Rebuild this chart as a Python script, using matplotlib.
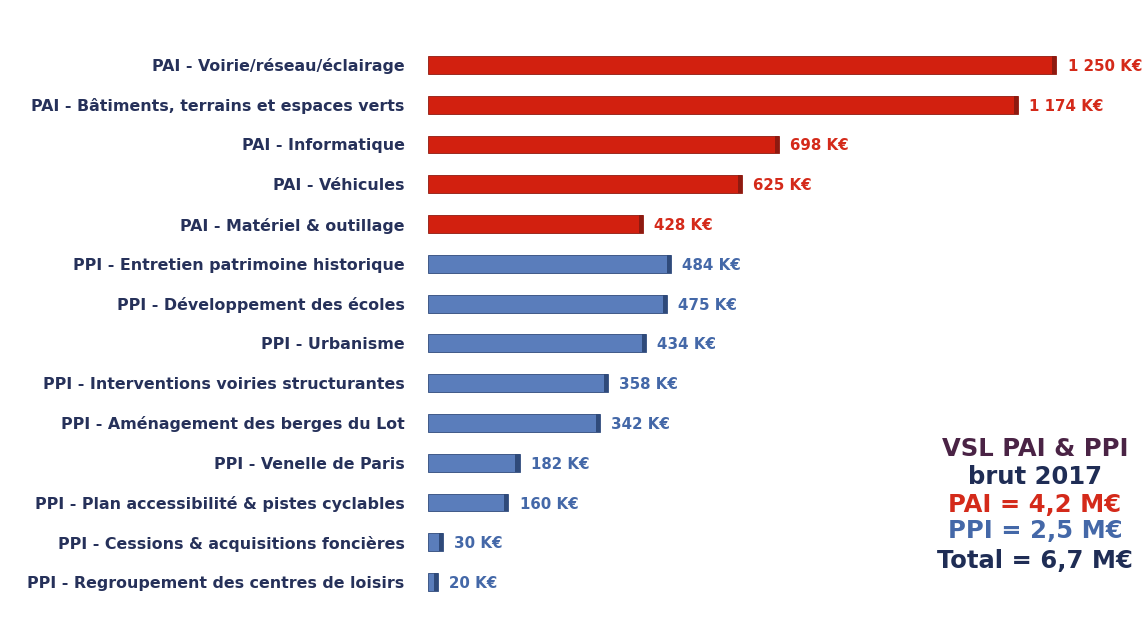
import matplotlib.pyplot as plt

categories = [
    "PAI - Voirie/réseau/éclairage",
    "PAI - Bâtiments, terrains et espaces verts",
    "PAI - Informatique",
    "PAI - Véhicules",
    "PAI - Matériel & outillage",
    "PPI - Entretien patrimoine historique",
    "PPI - Développement des écoles",
    "PPI - Urbanisme",
    "PPI - Interventions voiries structurantes",
    "PPI - Aménagement des berges du Lot",
    "PPI - Venelle de Paris",
    "PPI - Plan accessibilité & pistes cyclables",
    "PPI - Cessions & acquisitions foncières",
    "PPI - Regroupement des centres de loisirs",
]
values = [1250, 1174, 698, 625, 428, 484, 475, 434, 358, 342, 182, 160, 30, 20]
value_labels = ["1 250 K€", "1 174 K€", "698 K€", "625 K€", "428 K€", "484 K€", "475 K€",
                "434 K€", "358 K€", "342 K€", "182 K€", "160 K€", "30 K€", "20 K€"]

summary_lines = ["VSL PAI & PPI", "brut 2017", "PAI = 4,2 M€", "PPI = 2,5 M€", "Total = 6,7 M€"]

RED = "#d2200f"
RED_DARK = "#8e1a10"
BLUE = "#5a7dbb"
BLUE_DARK = "#2f4a7a"
RED_TXT = "#d42a1a"
BLUE_TXT = "#4468a8"
NAVY = "#26315a"

plt.rcParams['font.family'] = ['DejaVu Sans']

fig = plt.figure(figsize=(11.47, 6.21), dpi=100)
ax = fig.add_axes([428 / 1147, 1 - 602 / 621, 719 / 1147, 557 / 621])

y = list(range(len(categories)))
is_pai = [c.startswith("PAI") for c in categories]
colors = [RED if p else BLUE for p in is_pai]
edges = [RED_DARK if p else BLUE_DARK for p in is_pai]
ax.barh(y, values, height=0.45, color=colors, edgecolor=edges, linewidth=0.6)

# darker end cap for the pseudo-3D look
cap = 8
ax.barh(y, [cap] * len(values), left=[v - cap for v in values], height=0.45,
        color=edges, linewidth=0)

for yi, v, lab, c, p in zip(y, values, value_labels, categories, is_pai):
    col = RED_TXT if p else BLUE_TXT
    ax.annotate(lab, (v, yi), xytext=(8, 0), textcoords="offset points",
                va="center_baseline", ha="left", fontsize=10.8, fontweight="bold", color=col)
    ax.annotate(c, (0, yi), xytext=(-17, 0), textcoords="offset points",
                va="center_baseline", ha="right", fontsize=11.4, fontweight="bold", color=NAVY,
                annotation_clip=False)

ax.set_xlim(0, 1430)
ax.set_ylim(len(categories) - 0.5, -0.5)
ax.axis("off")

summary_colors = ["#4a2345", "#1f2d55", RED_TXT, BLUE_TXT, "#1f2d55"]
summary_y = [447, 475, 502, 529, 558]
for line, col, py in zip(summary_lines, summary_colors, summary_y):
    fig.text(1035 / 1147, 1 - py / 621, line, ha="center", va="center_baseline",
             fontsize=17.5, fontweight="bold", color=col)

fig.savefig("out.png", dpi=100, facecolor="white")
